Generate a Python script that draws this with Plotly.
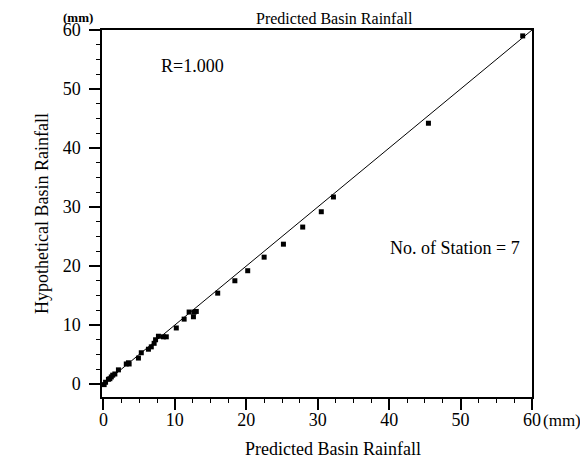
import plotly.graph_objects as go

# Data
predicted = [0.1, 0.3, 0.7, 0.9, 1.1, 1.3, 1.6, 2.1, 3.2, 3.5, 3.6, 4.9, 5.3,
             6.3, 6.7, 7.1, 7.3, 7.7, 8.4, 8.8, 10.2, 11.3, 12.0, 12.6, 12.7,
             13.0, 16.0, 18.4, 20.2, 22.5, 25.2, 27.9, 30.5, 32.2, 45.5, 58.7]
hypothetical = [-0.1, 0.3, 0.8, 0.9, 1.2, 1.5, 1.7, 2.4, 3.4, 3.6, 3.4, 4.4, 5.3,
                5.9, 6.3, 6.9, 7.5, 8.1, 8.0, 8.0, 9.5, 11.0, 12.2, 11.4, 12.2,
                12.3, 15.4, 17.5, 19.2, 21.5, 23.7, 26.6, 29.2, 31.7, 44.2, 59.0]
line_x = [0, 60]
line_y = [0, 60]
tick_vals = [0, 10, 20, 30, 40, 50, 60]
tick_text = ["0", "10", "20", "30", "40", "50", "60"]

FONT = "Liberation Serif"

fig = go.Figure()
fig.add_trace(go.Scatter(x=line_x, y=line_y, mode="lines",
                         line=dict(color="black", width=1), showlegend=False))
fig.add_trace(go.Scatter(x=predicted, y=hypothetical, mode="markers",
                         marker=dict(symbol="square", size=5, color="black"),
                         showlegend=False))

axis_common = dict(
    showgrid=False, zeroline=False, showline=True, linecolor="black",
    linewidth=1.5, mirror=True, ticks="outside", ticklen=11, tickwidth=1.5,
    tickcolor="black", tickvals=tick_vals, ticktext=tick_text,
    tickfont=dict(family=FONT, size=18, color="black"),
    minor=dict(dtick=2.5, ticks="outside", ticklen=4, tickcolor="black", tickwidth=1),
    automargin=False,
)

fig.update_xaxes(range=[-0.2, 60], **axis_common, ticklabelstandoff=-5)
fig.update_yaxes(range=[-2.2, 60], **axis_common, ticklabelstandoff=5,
                 title=dict(text="Hypothetical Basin Rainfall",
                            font=dict(family=FONT, size=18, color="black"), standoff=9))

fig.update_layout(
    width=580, height=462,
    margin=dict(l=94, r=56, t=22, b=73, autoexpand=False),
    paper_bgcolor="white", plot_bgcolor="white",
    font=dict(family=FONT, color="black"),
    annotations=[
        dict(text="R=1.000", x=12.5, y=53.9, xref="x", yref="y",
             showarrow=False, font=dict(family=FONT, size=18)),
        dict(text="No. of Station = 7", x=58.6, y=23.0, xref="x", yref="y",
             xanchor="right", yanchor="middle", showarrow=False,
             font=dict(family=FONT, size=18)),
        dict(text="<b>(mm)</b>", x=-0.055, y=1.06, xref="paper", yref="paper",
             xanchor="center", yanchor="top", showarrow=False,
             font=dict(family=FONT, size=13)),
        dict(text="(mm)", x=1.02, y=-0.063, xref="paper", yref="paper",
             xanchor="left", yanchor="middle", showarrow=False,
             font=dict(family=FONT, size=17)),
        dict(text="Predicted Basin Rainfall", x=0.537, y=-0.142, xref="paper", yref="paper",
             xanchor="center", yanchor="middle", showarrow=False,
             font=dict(family=FONT, size=18)),
        dict(text="Predicted Basin Rainfall", x=0.54, y=1.06, xref="paper", yref="paper",
             xanchor="center", yanchor="top", showarrow=False,
             font=dict(family=FONT, size=16)),
    ],
)

fig.write_html("out.html")
